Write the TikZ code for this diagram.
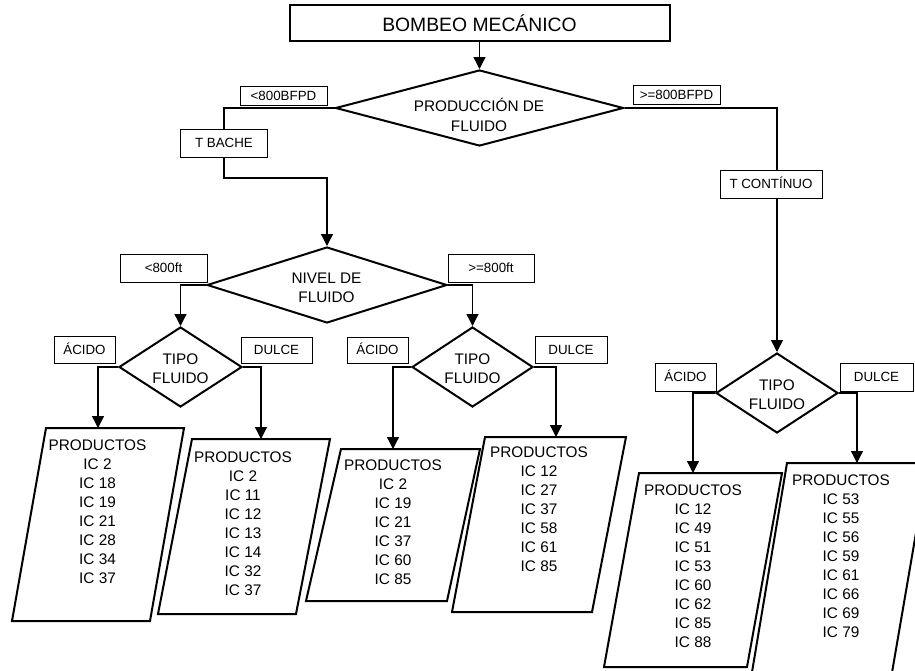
\documentclass[tikz,border=0pt]{standalone}
\usepackage{fontspec}
\setmainfont{Liberation Sans}
\usetikzlibrary{shapes.geometric,arrows.meta}
\begin{document}
\begin{tikzpicture}[x=0.75pt,y=-0.75pt,
  thickline/.style={line width=1.5pt},
  titlebox/.style={draw,thickline,minimum width=285pt,minimum height=27pt,inner sep=0pt,
    font=\fontsize{14.5}{17}\selectfont},
  decision/.style 2 args={draw,thickline,shape=diamond,inner sep=0pt,
    minimum width=#1*0.75pt,minimum height=#2*0.75pt},
  dtext/.style={align=center,inner sep=0pt,font=\fontsize{11.5}{14.5}\selectfont},
  tag/.style 2 args={draw,line width=0.75pt,inner sep=0pt,
    minimum width=#1*0.75pt,minimum height=#2*0.75pt,
    text height=7.2pt,text depth=0pt,font=\fontsize{10}{12}\selectfont},
  prodbox/.style={thickline,line join=miter},
  prodtext/.style={align=center,inner sep=0pt,font=\fontsize{11.5}{14.25}\selectfont},
  link/.style={line width=1pt},
  arrow/.style={link,-{Triangle[length=9pt,width=9pt]}},
]
\useasboundingbox (0,0) rectangle (915,671);
\clip (0,0) rectangle (915,671);

% ---- decisions and their text ----
\node[titlebox] (top) at (479.5,23) {BOMBEO MECÁNICO};
\node[decision={288}{76}] (d1) at (479.5,108) {};
\node[dtext,font=\fontsize{11.5}{15}\selectfont] (d1t) at (479,115) {PRODUCCIÓN DE\\FLUIDO};

\node[decision={240}{76}] (d2) at (327,285) {};
\node[dtext] (d2t) at (326.5,288) {NIVEL DE\\FLUIDO};

\node[decision={123}{80}] (t1) at (180.5,367) {};
\node[dtext,font=\fontsize{11.5}{14}\selectfont] (t1t) at (180.5,368.5) {TIPO\\FLUIDO};
\node[decision={121}{80}] (t2) at (472.5,367) {};
\node[dtext,font=\fontsize{11.5}{14}\selectfont] (t2t) at (472.5,368.5) {TIPO\\FLUIDO};
\node[decision={122}{80}] (t3) at (777,393) {};
\node[dtext,font=\fontsize{11.5}{14}\selectfont] (t3t) at (777,395) {TIPO\\FLUIDO};

% ---- branch labels ----
\node[tag={87}{19}] (lowq) at (283.5,95.5) {<800BFPD};
\node[tag={87}{19}] (highq) at (676.5,95) {>=800BFPD};
\node[tag={87}{28}] (tbache) at (224,143) {T BACHE};
\node[tag={102}{28}] (tcont) at (771,184) {T CONTÍNUO};
\node[tag={87}{28}] (lowl) at (163.5,268) {<800ft};
\node[tag={86}{28}] (highl) at (491,268) {>=800ft};
\node[tag={61}{27}] (acid1) at (84.5,349.5) {ÁCIDO};
\node[tag={71}{26}] (sweet1) at (276.5,350) {DULCE};
\node[tag={61}{26}] (acid2) at (377.5,350) {ÁCIDO};
\node[tag={72}{27}] (sweet2) at (571,349.5) {DULCE};
\node[tag={61}{28}] (acid3) at (685.5,377) {ÁCIDO};
\node[tag={73}{28}] (sweet3) at (876.5,377) {DULCE};

% ---- product boxes (parallelograms) ----
\draw[prodbox] (46,428) -- (184,428) -- (150,621) -- (12,621) -- cycle;
\draw[prodbox] (192,439) -- (330,439) -- (296,614) -- (158,614) -- cycle;
\draw[prodbox] (341,449) -- (480,449) -- (447,601) -- (306,601) -- cycle;
\draw[prodbox] (485,437) -- (626,437) -- (592,612) -- (452,612) -- cycle;
\draw[prodbox] (639,473) -- (782,473) -- (747,667) -- (604,667) -- cycle;
\draw[prodbox] (787,463) -- (928,463) -- (889,690) -- (749,690) -- cycle;

\coordinate (p1in) at (98,428);
\coordinate (p2in) at (261,439);
\coordinate (p3in) at (393,449);
\coordinate (p4in) at (556,437);
\coordinate (p5in) at (693,473);
\coordinate (p6in) at (857,463);

\node[prodtext] (p1t) at (97.5,511.5) {PRODUCTOS\\IC 2\\IC 18\\IC 19\\IC 21\\IC 28\\IC 34\\IC 37};
\node[prodtext] (p2t) at (243,523.5) {PRODUCTOS\\IC 2\\IC 11\\IC 12\\IC 13\\IC 14\\IC 32\\IC 37};
\node[prodtext] (p3t) at (393,522.5) {PRODUCTOS\\IC 2\\IC 19\\IC 21\\IC 37\\IC 60\\IC 85};
\node[prodtext] (p4t) at (539,509.5) {PRODUCTOS\\IC 12\\IC 27\\IC 37\\IC 58\\IC 61\\IC 85};
\node[prodtext] (p5t) at (693,566) {PRODUCTOS\\IC 12\\IC 49\\IC 51\\IC 53\\IC 60\\IC 62\\IC 85\\IC 88};
\node[prodtext] (p6t) at (841,556.5) {PRODUCTOS\\IC 53\\IC 55\\IC 56\\IC 59\\IC 61\\IC 66\\IC 69\\IC 79};

% ---- connectors ----
\draw[arrow] (top.south) -- (d1.north);
\draw[link] (d1.west) -| (tbache.north);
\coordinate (kb) at (327,178);
\draw[arrow] (tbache.south) |- (kb) -- (d2.north);
\coordinate (kc) at (777,108);
\draw[link] (d1.east) -- (kc) -- (kc |- tcont.north);
\draw[arrow] (kc |- tcont.south) -- (t3.north);
\draw[arrow] (d2.west) -| (t1.north);
\draw[arrow] (d2.east) -| (t2.north);
\draw[arrow] (t1.west) -| (p1in);
\draw[arrow] (t1.east) -| (p2in);
\draw[arrow] (t2.west) -| (p3in);
\draw[arrow] (t2.east) -| (p4in);
\draw[arrow] (t3.west) -| (p5in);
\draw[arrow] (t3.east) -| (p6in);
\end{tikzpicture}
\end{document}
